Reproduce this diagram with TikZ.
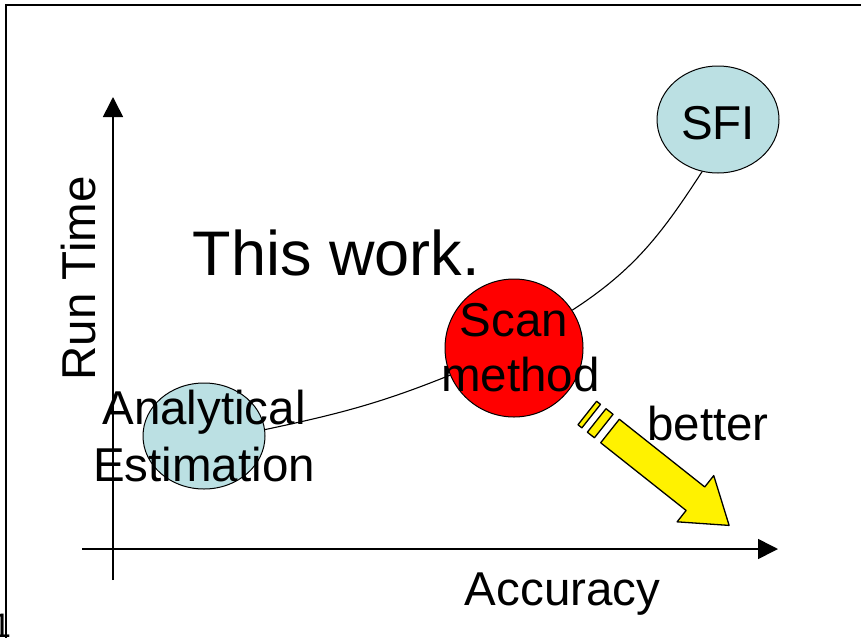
\documentclass[tikz,border=0pt]{standalone}
\usepackage{fontspec}
\setmainfont{Liberation Sans}
\usetikzlibrary{arrows.meta,shapes.geometric}
\definecolor{bubblecol}{RGB}{187,224,227}
\begin{document}
\begin{tikzpicture}[x=1pt,y=1pt,
  lbl/.style={font=\fontsize{47.5}{57}\selectfont, inner sep=0pt},
  bubble/.style={ellipse, draw, line width=1pt, fill=bubblecol, minimum width=122pt, minimum height=106pt, inner sep=0pt},
  axis/.style={line width=1.6pt, -{Triangle[length=20pt,width=20pt]}},
  link/.style={line width=1.1pt},
  yarrow/.style={draw, line width=1.3pt, fill=yellow, line join=round},
  frameline/.style={line width=2pt}]
\useasboundingbox (0,0) rectangle (861,-637);
% frame
\coordinate (fb) at (6,-640);
\coordinate (fc) at (6,-5);
\coordinate (fr) at (864,-5);
\draw[frameline] (fb) -- (fc) -- (fr);
\node[font=\fontsize{34}{40}\selectfont, anchor=base east, inner sep=0pt] (pg) at (11.2,-637) {1};
% axes
\coordinate (yb) at (113,-580);
\coordinate (yt) at (113,-97);
\coordinate (xl) at (82,-549);
\coordinate (xr) at (778,-549);
\draw[axis] (yb) -- (yt);
\draw[axis] (xl) -- (xr);
\node[lbl, rotate=90, anchor=base] (rt) at (95,-278.5) {Run Time};
\node[lbl, anchor=base] (acc) at (562.5,-605) {Accuracy};
% bubbles
\node[bubble] (ana) at (204,-436) {};
\node[bubble, minimum height=107pt] (sfi) at (718,-119.5) {};
\node[circle, draw, line width=1pt, fill=red, minimum size=138pt, inner sep=0pt] (scan) at (514,-348) {};
\draw[link] (ana.6.5) to[out=12,in=202] (scan.203);
\draw[link] (scan.33) to[out=33,in=237] (sfi.253);
% texts
\node[lbl, align=center] (anat) at (204,-436.5) {Analytical\\Estimation};
\node[lbl, font=\fontsize{47.5}{55}\selectfont, align=center] (scant) at (520.5,-347.2) {Scan\hbox to 13pt{}\\method};
\node[lbl, anchor=base] (sfit) at (718,-139.3) {SFI};
\node[font=\fontsize{63}{75}\selectfont, anchor=base, inner sep=0pt] (work) at (336.5,-275) {This work.};
\node[lbl, anchor=base] (bet) at (708,-440) {better};
% striped arrow
\begin{scope}[shift={(610,-431)}, rotate=-38.4]
\draw[yarrow] (0,15) -- (109,15) -- (109,29.5) -- (152,0) -- (109,-29.5) -- (109,-15) -- (0,-15) -- cycle;
\draw[yarrow] (-17,15) rectangle (-8,-15);
\draw[yarrow] (-29,15) rectangle (-24,-15);
\end{scope}
\end{tikzpicture}
\end{document}
